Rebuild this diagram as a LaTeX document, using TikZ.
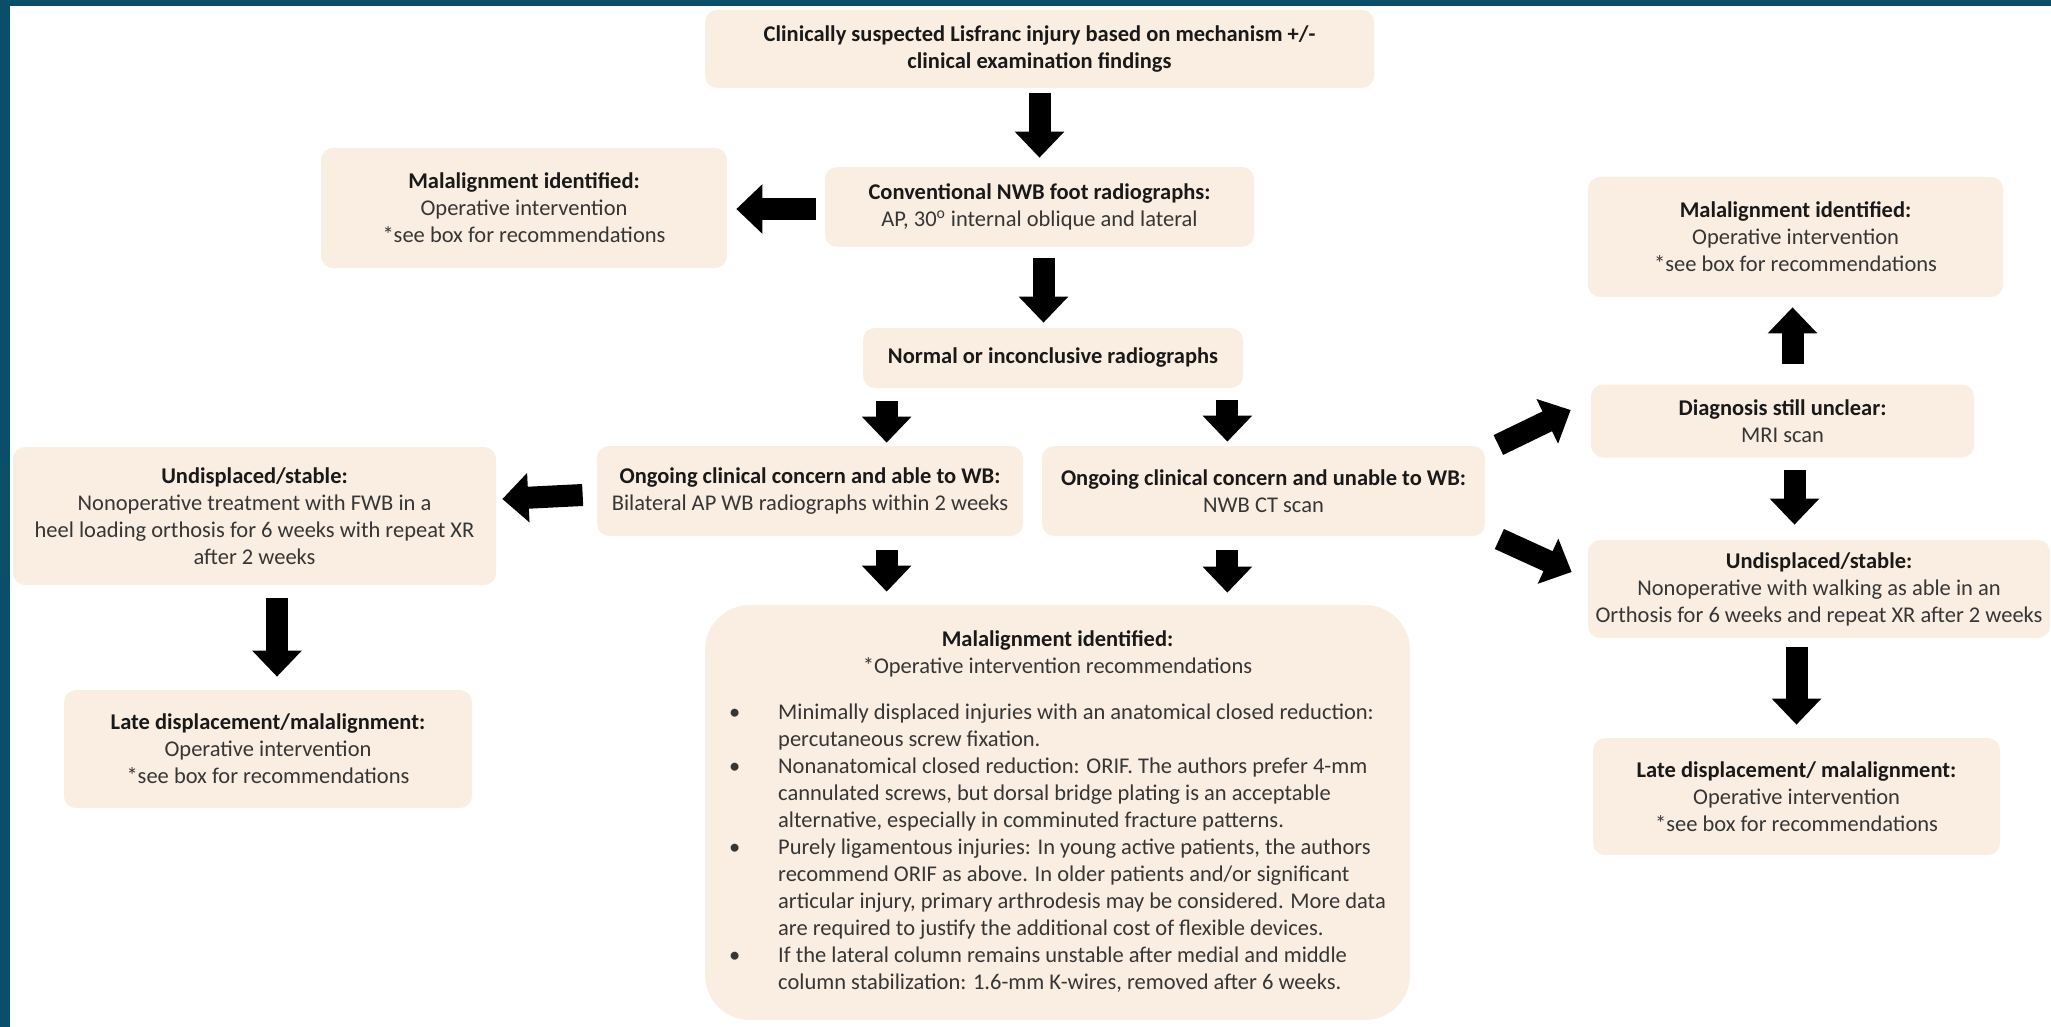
\documentclass[tikz,border=0pt]{standalone}
\usepackage{fontspec}
\setmainfont{Carlito}
\usetikzlibrary{arrows.meta,calc}

\definecolor{boxfill}{HTML}{FAEDE1}
\definecolor{frame}{HTML}{0B4E6A}
\definecolor{txtgray}{HTML}{363636}

\tikzset{
  box/.style={fill=boxfill, rounded corners=0.24cm, align=center, inner sep=0pt,
              text=txtgray, font=\fontsize{12.8}{15.4}\selectfont},
  sz/.style 2 args={minimum width=#1*0.02cm, minimum height=#2*0.02cm},
  blk/.style={line width=0.44cm, -{Triangle[width=0.96cm,length=0.52cm]}},
}
\newcommand{\hd}[1]{\textbf{\color{black!90}#1}}

\begin{document}
\begin{tikzpicture}[x=0.02cm,y=-0.02cm]

\useasboundingbox (0,0) rectangle (2051,1027);
\fill[frame] (0,0) rectangle (2051,6);
\fill[frame] (0,0) rectangle (10,1027);

%% middle column
\node[box,sz={669}{78}] (clin) at (1039.5,49)
  {\hd{Clinically suspected Lisfranc injury based on mechanism +/-}\\ \hd{clinical examination findings}};
\node[box,sz={429}{80}] (conv) at (1039.5,207)
  {\hd{Conventional NWB foot radiographs:}\\ AP, 30\textsuperscript{o} internal oblique and lateral};
\node[box,sz={380}{60}] (normal) at (1053,358) {\hd{Normal or inconclusive radiographs}};
\node[box,sz={426}{90}] (able) at (810,491)
  {\hd{Ongoing clinical concern and able to WB:}\\ Bilateral AP WB radiographs within 2 weeks};
\node[box,sz={443}{90}] (unable) at (1263.5,491)
  {\hd{Ongoing clinical concern and unable to WB:}\\ NWB CT scan};

%% left column
\node[box,sz={406}{120}] (malL) at (524,208)
  {\hd{Malalignment identified:}\\ Operative intervention\\ *see box for recommendations};
\node[box,sz={483}{138}] (undL) at (254.5,516)
  {\hd{Undisplaced/stable:}\\ Nonoperative treatment with FWB in a\\ heel loading orthosis for 6 weeks with repeat XR\\ after 2 weeks};
\node[box,sz={408}{118}] (lateL) at (268,749)
  {\hd{Late displacement/malalignment:}\\ Operative intervention\\ *see box for recommendations};

%% right column
\node[box,sz={415}{120}] (malR) at (1795.5,237)
  {\hd{Malalignment identified:}\\ Operative intervention\\ *see box for recommendations};
\node[box,sz={383}{73}] (diag) at (1782.5,421) {\hd{Diagnosis still unclear:}\\ MRI scan};
\node[box,sz={462}{98}] (undR) at (1819,589)
  {\hd{Undisplaced/stable:}\\ Nonoperative with walking as able in an\\ Orthosis for 6 weeks and repeat XR after 2 weeks};
\node[box,sz={407}{117}] (lateR) at (1796.5,796.5)
  {\hd{Late displacement/ malalignment:}\\ Operative intervention\\ *see box for recommendations};

%% recommendations
\node[box,sz={705}{415},rounded corners=0.9cm] (big) at (1057.5,812.5)
  {\begin{tabular}{@{}p{0.98cm}@{}l@{}}
   \multicolumn{2}{c}{\hd{Malalignment identified:}}\\
   \multicolumn{2}{c}{*Operative intervention recommendations}\\[0.38cm]
   \textbullet & Minimally displaced injuries with an anatomical closed reduction:\\
               & percutaneous screw fixation.\\
   \textbullet & Nonanatomical closed reduction: ORIF. The authors prefer 4-mm\\
               & cannulated screws, but dorsal bridge plating is an acceptable\\
               & alternative, especially in comminuted fracture patterns.\\
   \textbullet & Purely ligamentous injuries: In young active patients, the authors\\
               & recommend ORIF as above. In older patients and/or significant\\
               & articular injury, primary arthrodesis may be considered. More data\\
               & are required to justify the additional cost of flexible devices.\\
   \textbullet & If the lateral column remains unstable after medial and middle\\
               & column stabilization: 1.6-mm K-wires, removed after 6 weeks.
   \end{tabular}};

%% arrows
\draw[blk] ($(clin.south)+(0,5)$) -- ($(conv.north)+(0,-9)$);
\draw[blk] ($(conv.west)+(-9,2)$) -- ($(malL.east)+(9,1)$);
\draw[blk] ($(conv.south)+(4,11)$) coordinate (a3) -- ($(a3 |- normal.north)+(0,-5)$);

\draw[blk] ($(normal.south west)+(24,13)$) coordinate (a4) -- ($(a4 |- able.north)+(0,-3)$);
\draw[blk] ($(normal.south east)+(-16,12)$) coordinate (a5) -- ($(a5 |- unable.north)+(0,-4)$);
\draw[blk] ($(able.west)+(-14,4)$) -- ($(undL.east)+(6,-17)$);
\draw[blk] ($(a4 |- able.south)+(0,14)$) -- ($(a4 |- big.north)+(0,-13)$);
\draw[blk] ($(a5 |- unable.south)+(0,14)$) -- ($(a5 |- big.north)+(0,-12)$);
\draw[blk] ($(lateL.north)+(9,-92)$) coordinate (a14) -- ($(a14 |- lateL.north)+(0,-13)$);

\draw[blk] ($(unable.east)+(13,-46)$) -- ($(diag.west)+(-20,-11)$);
\draw[blk] ($(unable.east)+(14,48)$) -- ($(undR.west)+(-16,-17)$);
\draw[blk] ($(diag.north)+(10,-20)$) coordinate (a11) -- ($(a11 |- malR.south)+(0,10)$);
\draw[blk] ($(diag.south)+(12,12)$) coordinate (a12) -- ($(a12 |- undR.north)+(0,-15)$);
\draw[blk] ($(lateR.north)+(0,-91)$) coordinate (a13) -- ($(a13 |- lateR.north)+(0,-13)$);

\end{tikzpicture}
\end{document}
